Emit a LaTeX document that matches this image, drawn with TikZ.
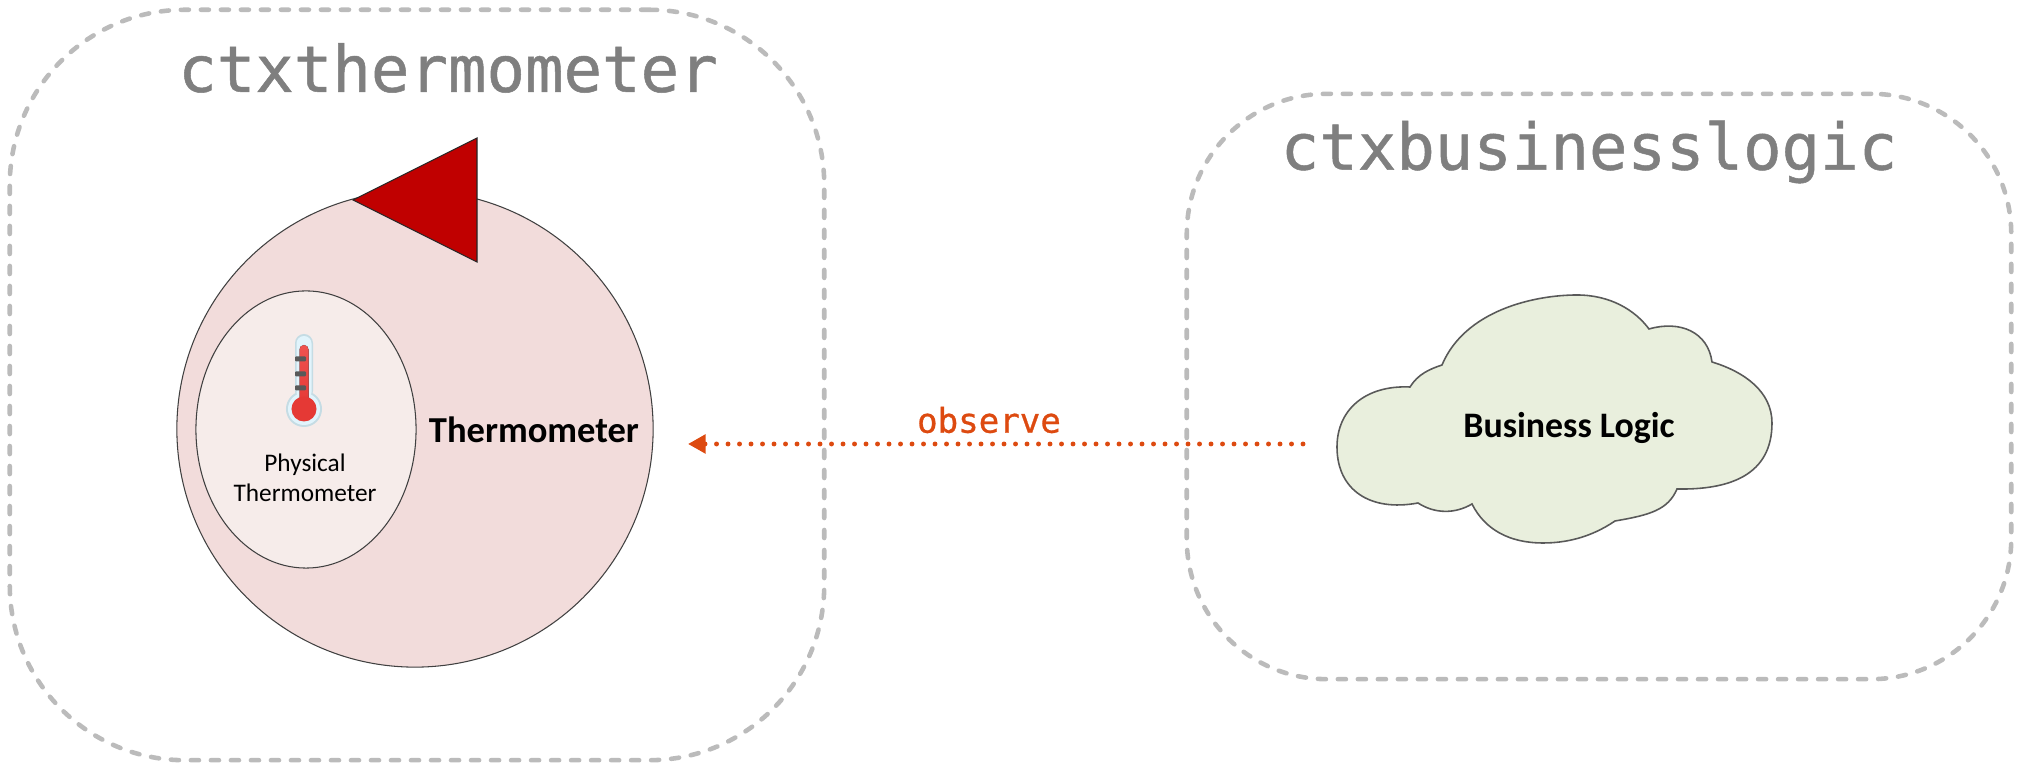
\documentclass[tikz,border=0pt]{standalone}
\usepackage{fontspec}
\setmainfont{Carlito}
\setmonofont[FakeBold=0.8]{DejaVu Sans Mono}
\usetikzlibrary{shapes.geometric, arrows.meta, positioning}
\definecolor{boxgray}{HTML}{BBBBBB}
\definecolor{titlegray}{HTML}{7F7F7F}
\definecolor{observeorange}{HTML}{DD4A10}
\definecolor{thermofill}{HTML}{F2DCDB}
\definecolor{physicalfill}{HTML}{F6ECEA}
\definecolor{portred}{HTML}{C00000}
\definecolor{cloudfill}{HTML}{E9EFDD}
\definecolor{iconborder}{HTML}{C5DCE4}
\definecolor{iconglass}{HTML}{E1F4FC}
\definecolor{iconredtop}{HTML}{EF5350}
\definecolor{iconredbottom}{HTML}{E53935}

\begin{document}
\begin{tikzpicture}[
    x=0.01cm,
    y=-0.01cm,
    context box/.style={
        draw=boxgray,
        line width=1.3pt,
        dash pattern=on 2.3pt off 3.39pt,
        line cap=round,
        rectangle,
        inner sep=0pt
    },
    context title/.style={
        font=\ttfamily\fontsize{18.2}{20}\selectfont,
        text=titlegray,
        inner sep=0pt
    },
    actor/.style={
        draw=black!75,
        line width=0.3pt,
        inner sep=0pt
    },
    actor label/.style={
        font=\bfseries\fontsize{10.4}{12}\selectfont,
        inner sep=0pt
    },
    observe arrow/.style={
        -{Triangle[length=5pt, width=5.2pt]},
        draw=observeorange,
        line width=1.4pt,
        dash pattern=on 0pt off 3.27pt,
        line cap=round
    }
]
    \useasboundingbox (0,0) rectangle (2020,771);

    % --- CONTEXTS ---
    \node[context box, rounded corners=1.75cm, minimum width=8.14cm, minimum height=7.5cm] (ctxthermometer) at (417,385) {};
    \node[context title] (ctxthermometerlbl) at (448,68) {ctxthermometer};

    \node[context box, rounded corners=1.4cm, minimum width=8.24cm, minimum height=5.85cm] (ctxbusinesslogic) at (1599,386.5) {};
    \node[context title] (ctxbusinesslogiclbl) at (1589,152) {ctxbusinesslogic};

    % --- THERMOMETER ---
    \node[actor, circle, fill=thermofill, minimum size=4.76cm] (thermometer) at (415,429) {};
    \node[actor, fill=physicalfill, ellipse, minimum width=2.2cm, minimum height=2.77cm] (physical) at (306,429.5) {};
    \node[actor label] (thermometerlbl) at (534,430) {Thermometer};
    \node[font=\fontsize{7.2}{8.6}\selectfont, align=center, inner sep=0pt] (physicallbl) at (305,478) {Physical\\Thermometer};

    % Port
    \coordinate (porttip) at (353,200);
    \coordinate (porttop) at (477,138);
    \coordinate (portbottom) at (477,262);
    \draw[draw=black!85, line width=0.3pt, fill=portred] (porttip) -- (porttop) -- (portbottom) -- cycle;

    % Icon
    \fill[iconborder, rounded corners=0.09cm] (295,334) rectangle (313,400);
    \fill[iconborder] (304,409) circle (0.18cm);
    \fill[iconglass, rounded corners=0.075cm] (296.5,336) rectangle (311.5,400);
    \fill[iconglass] (304,409) circle (0.16cm);
    \fill[top color=iconredtop, bottom color=iconredbottom, rounded corners=0.045cm] (299.5,345) rectangle (308.5,405);
    \fill[iconredbottom] (304,409) circle (0.125cm);
    \foreach \ticky in {359,374,388} {
        \fill[black!65, rounded corners=0.01cm] (295,\ticky-2.5) rectangle (306,\ticky+2.5);
    }

    % --- BUSINESS LOGIC ---
    \draw[draw=black!65, line width=0.45pt, fill=cloudfill]
        (1410,387) .. controls (1418,374) and (1430,369) .. (1442,365)
        .. controls (1465,310) and (1535,295) .. (1577,295)
        .. controls (1610,295) and (1635,310) .. (1649,329)
        .. controls (1680,320) and (1708,332) .. (1712,362)
        .. controls (1745,372) and (1772,392) .. (1772,423)
        .. controls (1772,475) and (1730,490) .. (1677,489)
        .. controls (1668,510) and (1650,515) .. (1615,521)
        .. controls (1590,538) and (1565,543) .. (1543,543)
        .. controls (1510,543) and (1485,530) .. (1472,504)
        .. controls (1455,514) and (1435,514) .. (1418,503)
        .. controls (1370,512) and (1337,490) .. (1337,447)
        .. controls (1337,410) and (1365,385) .. (1410,387)
        -- cycle;
    \node[actor label, font=\bfseries\fontsize{10.2}{12}\selectfont] (businesslogic) at (1569,428) {Business Logic};

    % --- OBSERVE ---
    \coordinate (observestart) at (1303,444);
    \coordinate (observeend) at (688,444);
    \draw[observe arrow] (observestart) -- (observeend);
    \node[font=\ttfamily\fontsize{9.7}{12}\selectfont, text=observeorange, inner sep=0pt] (observelbl) at (989,420) {observe};

\end{tikzpicture}
\end{document}
